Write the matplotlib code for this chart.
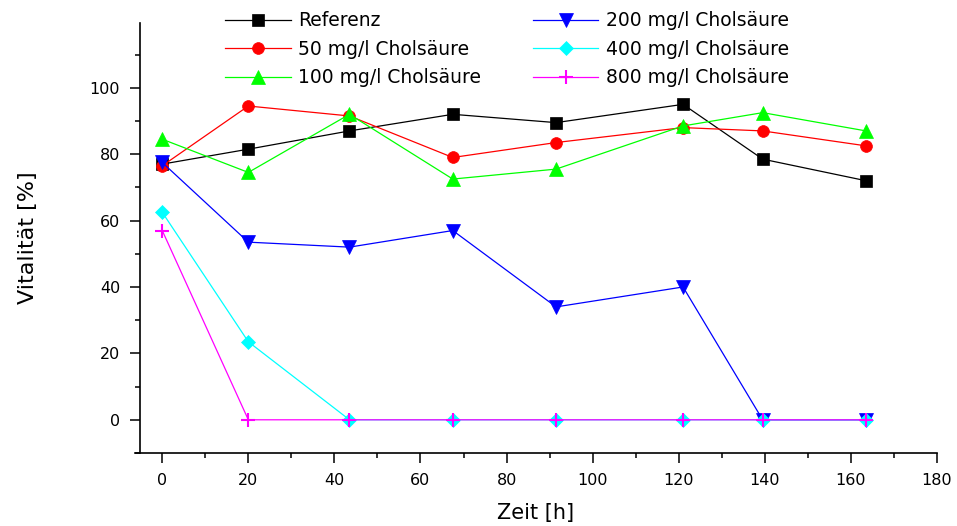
import matplotlib
matplotlib.use("Agg")
import matplotlib.pyplot as plt
from matplotlib.ticker import MultipleLocator

# sampling times (h)
ZEIT = [0, 20, 43.5, 67.5, 91.5, 121, 139.5, 163.5]

REFERENZ = [77, 81.5, 87, 92, 89.5, 95, 78.5, 72]
CHOL_50 = [76.5, 94.5, 91.5, 79, 83.5, 88, 87, 82.5]
CHOL_100 = [84.5, 74.5, 92, 72.5, 75.5, 88.5, 92.5, 87]
CHOL_200 = [77.5, 53.5, 52, 57, 34, 40, 0, 0]
CHOL_400 = [62.5, 23.5, 0, 0, 0, 0, 0, 0]
CHOL_800 = [57, 0, 0, 0, 0, 0, 0, 0]

LABELS = ["Referenz", "50 mg/l Cholsäure", "100 mg/l Cholsäure",
          "200 mg/l Cholsäure", "400 mg/l Cholsäure", "800 mg/l Cholsäure"]

series = [REFERENZ, CHOL_50, CHOL_100, CHOL_200, CHOL_400, CHOL_800]
styles = [("black", "s", 8.5), ("red", "o", 8.5), ("#00ff00", "^", 9.5),
          ("blue", "v", 9.5), ("cyan", "D", 7.5), ("magenta", "+", 9.5)]

plt.rcParams["font.family"] = ["DejaVu Sans"]

fig = plt.figure(figsize=(9.57, 5.26), dpi=100)
ax = fig.add_axes([134.7 / 957, 1 - 453 / 526, (937 - 134.7) / 957, (453 - 23) / 526])

for vals, lab, (col, mk, ms) in zip(series, LABELS, styles):
    ax.plot(ZEIT, vals, "-", color=col, marker=mk, ms=ms, lw=0.9,
            mew=1.5 if mk == "+" else 0.5, mec=col, mfc=col, label=lab,
            clip_on=False)

ax.set_xlim(-6.4, 180)
ax.set_ylim(-10, 119.5)
ax.spines["left"].set_position(("data", -5.1))
ax.xaxis.set_major_locator(MultipleLocator(20))
ax.xaxis.set_minor_locator(MultipleLocator(10))
ax.yaxis.set_major_locator(MultipleLocator(20))
ax.yaxis.set_minor_locator(MultipleLocator(10))
for s in ("top", "right"):
    ax.spines[s].set_visible(False)
for s in ("left", "bottom"):
    ax.spines[s].set_linewidth(1.2)
ax.tick_params(which="major", length=7.5, width=1.1, labelsize=11.5, pad=7)
ax.tick_params(which="minor", length=3.5, width=1.1)

ax.set_xlabel("Zeit [h]", fontsize=15, labelpad=11)
ax.set_ylabel("Vitalität [%]", fontsize=16, labelpad=37)

fig.legend(loc="upper left", bbox_to_anchor=(225 / 957, 1 - 11.5 / 526), ncol=2,
           frameon=False, fontsize=13.5, numpoints=1, handlelength=3.5,
           handletextpad=0.4, columnspacing=2.75, labelspacing=0.5,
           borderpad=0, borderaxespad=0)

fig.savefig("out.png", dpi=100)
